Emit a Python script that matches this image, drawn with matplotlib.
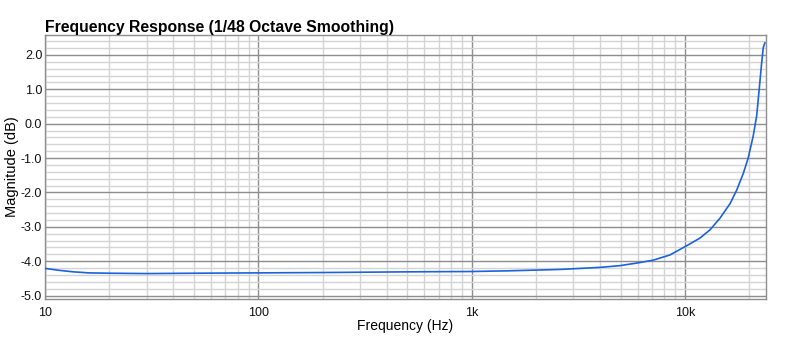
import matplotlib
matplotlib.use("Agg")
import matplotlib.pyplot as plt
from matplotlib.ticker import FixedLocator, LogLocator, MultipleLocator, FuncFormatter, NullFormatter

plt.rcParams["font.family"] = ["Liberation Sans", "DejaVu Sans"]
plt.rcParams["axes.unicode_minus"] = False

# Measured magnitude response (Hz, dB)
freq_hz = [10, 11.8, 13.6, 16, 20, 30, 50, 100, 200, 500, 1000, 1500,
           2600, 4000, 4960, 6150, 7100, 8500, 10000, 11750, 13100, 14600,
           16300, 17500, 18800, 19800, 20900, 21700, 22300, 22900, 23300,
           23700]
magnitude_db = [-4.21, -4.27, -4.31, -4.34, -4.35, -4.36, -4.35, -4.34,
                -4.33, -4.31, -4.30, -4.28, -4.24, -4.18, -4.13, -4.04,
                -3.97, -3.82, -3.58, -3.33, -3.09, -2.75, -2.32, -1.93,
                -1.44, -1.00, -0.36, 0.23, 1.00, 1.77, 2.21, 2.35]

x_ticks = [10, 100, 1000, 10000]
x_tick_labels = ["10", "100", "1k", "10k"]
y_ticks = [2.0, 1.0, 0.0, -1.0, -2.0, -3.0, -4.0, -5.0]

fig = plt.figure(figsize=(7.98, 3.39), dpi=100)
ax = fig.add_axes([45 / 798, 1 - 299 / 339, (766 - 45) / 798, (299 - 35) / 339])

ax.plot(freq_hz, magnitude_db, color="#1b62dc", lw=1.2, zorder=3,
        solid_joinstyle="round")

ax.set_xscale("log")
ax.set_xlim(10, 24000)
ax.set_ylim(-5.1, 2.58)

ax.xaxis.set_major_locator(FixedLocator(x_ticks))
ax.xaxis.set_major_formatter(FuncFormatter(
    lambda v, p: dict(zip(x_ticks, x_tick_labels)).get(round(v), "")))
ax.xaxis.set_minor_locator(LogLocator(base=10, subs=range(2, 10), numticks=20))
ax.xaxis.set_minor_formatter(NullFormatter())

ax.yaxis.set_major_locator(FixedLocator(y_ticks))
ax.yaxis.set_major_formatter(FuncFormatter(lambda v, p: f"{v:.1f}"))
ax.yaxis.set_minor_locator(MultipleLocator(0.2))

ax.grid(which="major", color="#8e8e8e", lw=1.0, zorder=1)
ax.grid(which="minor", color="#d4d4d4", lw=1.0, zorder=0)
ax.set_axisbelow(True)

for s in ax.spines.values():
    s.set_color("#8e8e8e")
    s.set_linewidth(1.0)

ax.tick_params(which="both", length=0, labelsize=9, colors="#111111")
ax.tick_params(axis="x", pad=6)
ax.tick_params(axis="y", pad=2)

ax.set_xlabel("Frequency (Hz)", fontsize=10, labelpad=0)
ax.set_ylabel("Magnitude (dB)", fontsize=10.5, labelpad=1)
ax.set_title("Frequency Response (1/48 Octave Smoothing)", loc="left",
             fontsize=11.3, fontweight="bold", pad=2)

fig.savefig("out.png", dpi=100, facecolor="white")
